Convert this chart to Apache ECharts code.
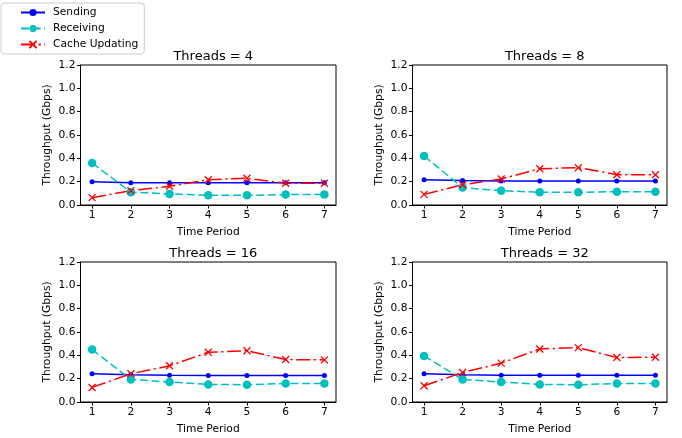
<!DOCTYPE html>
<html>
<head>
<meta charset="utf-8">
<script src="https://cdn.jsdelivr.net/npm/echarts@6/dist/echarts.min.js"></script>
<style>
  html, body { margin: 0; padding: 0; background: #fff; }
  #main { width: 682px; height: 438px; }
</style>
</head>
<body>
<div id="main"></div>
<script>
// time periods on the x axis
const periods = [1, 2, 3, 4, 5, 6, 7];
const panelTitles = ['Threads = 4', 'Threads = 8', 'Threads = 16', 'Threads = 32'];
const seriesNames = ['Sending', 'Receiving', 'Cache Updating'];

// Threads = 4
const sending4   = [0.20, 0.19, 0.19, 0.19, 0.19, 0.19, 0.19];
const receiving4 = [0.36, 0.11, 0.095, 0.083, 0.083, 0.089, 0.089];
const cache4     = [0.063, 0.123, 0.16, 0.217, 0.229, 0.186, 0.186];
// Threads = 8
const sending8   = [0.217, 0.209, 0.205, 0.205, 0.205, 0.205, 0.205];
const receiving8 = [0.42, 0.149, 0.123, 0.109, 0.109, 0.114, 0.114];
const cache8     = [0.091, 0.174, 0.223, 0.311, 0.32, 0.26, 0.26];
// Threads = 16
const sending16   = [0.243, 0.233, 0.229, 0.227, 0.227, 0.227, 0.227];
const receiving16 = [0.449, 0.193, 0.171, 0.151, 0.148, 0.159, 0.159];
const cache16     = [0.125, 0.242, 0.31, 0.426, 0.44, 0.364, 0.361];
// Threads = 32
const sending32   = [0.242, 0.233, 0.229, 0.229, 0.229, 0.229, 0.229];
const receiving32 = [0.395, 0.193, 0.171, 0.151, 0.148, 0.159, 0.159];
const cache32     = [0.139, 0.253, 0.333, 0.455, 0.466, 0.381, 0.384];

const panels = [
  [sending4, receiving4, cache4],
  [sending8, receiving8, cache8],
  [sending16, receiving16, cache16],
  [sending32, receiving32, cache32]
];

const font = 'DejaVu Sans';
const grids = [
  { left: 80.5, top: 65, width: 255.5, height: 140 },
  { left: 412.5, top: 65, width: 254.5, height: 140 },
  { left: 80.5, top: 262, width: 255.5, height: 140 },
  { left: 412.5, top: 262, width: 254.5, height: 140 }
];

const styles = [
  { color: '#0000ff', type: 'solid', symbol: 'circle', size: 5 },
  { color: '#00bfbf', type: [8, 3.6], symbol: 'circle', size: 8.5 },
  { color: '#ff0000', type: [14, 3.6, 2.2, 3.6], symbol: 'path://M0,0L10,10M10,0L0,10', size: 7 }
];

function toPoints(arr) {
  return periods.map((p, i) => [p, arr[i]]);
}

let xAxes = [], yAxes = [], series = [], titles = [];
grids.forEach((g, k) => {
  g.show = true;
  g.borderColor = '#000';
  g.borderWidth = 1;
  g.containLabel = false;
  titles.push({
    text: panelTitles[k],
    left: g.left + g.width / 2,
    top: g.top - 20,
    textAlign: 'center',
    textStyle: { fontFamily: font, fontSize: 13, fontWeight: 'normal', color: '#000' }
  });
  xAxes.push({
    gridIndex: k,
    type: 'value',
    min: 0.7,
    max: 7.3,
    name: 'Time Period',
    nameLocation: 'middle',
    nameGap: 22,
    nameTextStyle: { fontFamily: font, fontSize: 10.7, color: '#000' },
    axisLine: { show: true, lineStyle: { color: '#000', width: 1 } },
    axisTick: { show: true, length: 3.5, customValues: periods, lineStyle: { color: '#000' } },
    axisLabel: { customValues: periods, margin: 5, fontFamily: font, fontSize: 10.7, color: '#000' },
    splitLine: { show: false }
  });
  yAxes.push({
    gridIndex: k,
    type: 'value',
    min: 0,
    max: 1.2,
    interval: 0.2,
    name: 'Throughput (Gbps)',
    nameLocation: 'middle',
    nameGap: 28,
    nameTextStyle: { fontFamily: font, fontSize: 10.7, color: '#000' },
    axisLine: { show: true, lineStyle: { color: '#000', width: 1 } },
    axisTick: { show: true, length: 3.5, lineStyle: { color: '#000' } },
    axisLabel: { margin: 5, fontFamily: font, fontSize: 10.7, color: '#000', formatter: v => v.toFixed(1) },
    splitLine: { show: false }
  });
  panels[k].forEach((arr, j) => {
    const s = styles[j];
    series.push({
      name: seriesNames[j],
      type: 'line',
      xAxisIndex: k,
      yAxisIndex: k,
      data: toPoints(arr),
      symbol: s.symbol,
      symbolSize: s.size,
      showAllSymbol: true,
      animation: false,
      lineStyle: { color: s.color, width: 1.5, type: s.type },
      itemStyle: j === 2
        ? { color: s.color, borderColor: s.color, borderWidth: 1.3 }
        : { color: s.color, borderWidth: 0 }
    });
  });
});

const chart = echarts.init(document.getElementById('main'));
chart.setOption({
  backgroundColor: '#fff',
  animation: false,
  title: titles,
  legend: {
    data: seriesNames,
    orient: 'vertical',
    left: 1,
    top: 3,
    padding: [4, 6, 4, 19],
    itemGap: 5,
    itemWidth: 24,
    itemHeight: 9,
    borderColor: '#cccccc',
    borderWidth: 1,
    borderRadius: 3,
    textStyle: { fontFamily: font, fontSize: 10.7, color: '#000', padding: [0, 0, 0, 3] }
  },
  grid: grids,
  xAxis: xAxes,
  yAxis: yAxes,
  series: series
});
</script>
</body>
</html>
